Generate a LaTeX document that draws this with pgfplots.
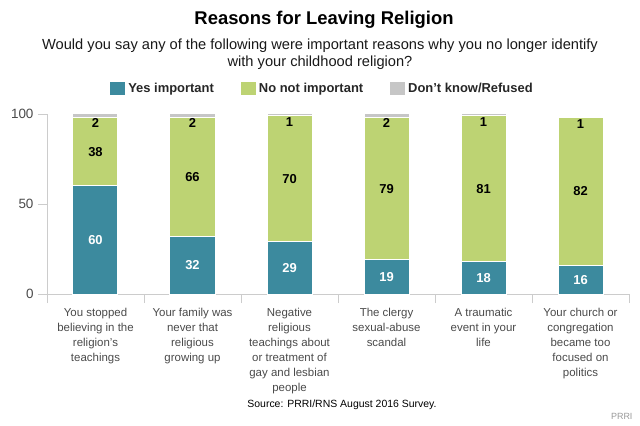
\documentclass[border=0pt]{standalone}
\usepackage{fontspec}
\setmainfont{Liberation Sans}
\usepackage{pgfplots}
\usepackage{pgfplotstable}
\pgfplotsset{compat=1.18}
\definecolor{yescol}{HTML}{3C8A9E}
\definecolor{nocol}{HTML}{BDD373}
\definecolor{dkcol}{HTML}{C6C6C6}
\definecolor{axcol}{HTML}{CCCCCC}
\definecolor{labcol}{HTML}{4A4A4A}

% dk for the last bar is drawn as a sliver, as in the original
\pgfplotstableread{
x yes no dk dklab
0 60 38 2 2
1 32 66 2 2
2 29 70 1 1
3 19 79 2 2
4 18 81 1 1
5 16 82 0.4 1
}\reasons

\pgfplotsset{frame/.style={
    at={(0,0)}, anchor=south west,
    scale only axis, width=582bp, height=180bp,
    xmin=-0.5, xmax=5.5, ymin=0, ymax=100, clip=false}}

\begin{document}
\begin{tikzpicture}
\useasboundingbox (-47bp,-132bp) rectangle (593bp,294bp);
\begin{axis}[
    frame,
    ybar stacked, bar width=45bp,
    axis lines*=left,
    axis line style={axcol},
    tick style={axcol},
    major tick length=9bp, tick align=outside,
    ytick={0,50,100},
    yticklabel style={text=labcol, font=\fontsize{13.5}{15}\selectfont, xshift=-1bp},
    /pgf/number format/assume math mode=true,
    xtick={-0.5,0.5,1.5,2.5,3.5,4.5,5.5}, xticklabels={},
    extra x ticks={0,1,2,3,4,5},
    extra x tick labels={
        {You stopped\\believing in the\\religion's\\teachings},
        {Your family was\\never that\\religious\\growing up},
        {Negative\\religious\\teachings about\\or treatment of\\gay and lesbian\\people},
        {The clergy\\sexual-abuse\\scandal},
        {A traumatic\\event in your\\life},
        {Your church or\\congregation\\became too\\focused on\\politics}},
    extra x tick style={major tick length=0pt,
        tick label style={align=center, text=labcol,
        font=\fontsize{11.5}{15}\selectfont, yshift=-11bp}},
    legend columns=3,
    legend style={draw=none, fill=none, at={(0.4725,1.139)}, anchor=center,
        font=\bfseries\fontsize{13}{14}\selectfont, text=black!85,
        /tikz/every even column/.append style={column sep=24bp}},
    legend image code/.code={\fill[#1] (0bp,-7bp) rectangle (16bp,7bp);},
]
\addplot[fill=yescol, draw=white, line width=1bp] table[x=x, y=yes] {\reasons};
\addplot[fill=nocol, draw=white, line width=1bp] table[x=x, y=no] {\reasons};
\addplot[fill=dkcol, draw=white, line width=1bp,
    point meta=explicit symbolic, nodes near coords,
    every node near coord/.append style={text=black, anchor=north, inner sep=2bp,
        font=\bfseries\fontsize{13}{15}\selectfont}]
    table[x=x, y=dk, meta=dklab] {\reasons};
\legend{Yes important, No not important, Don't know/Refused}
\end{axis}
% value labels in the middle of each segment
\begin{axis}[frame, hide axis,
    every node near coord/.append style={anchor=center,
        font=\bfseries\fontsize{13}{15}\selectfont}]
\addplot[draw=none, mark=none, point meta=explicit symbolic, nodes near coords,
    every node near coord/.append style={text=white}]
    table[x=x, y expr=\thisrow{yes}/2, meta=yes] {\reasons};
\addplot[draw=none, mark=none, point meta=explicit symbolic, nodes near coords,
    every node near coord/.append style={text=black}]
    table[x=x, y expr=\thisrow{yes}+\thisrow{no}/2, meta=no] {\reasons};
\end{axis}
\node[font=\bfseries\fontsize{18.5}{22}\selectfont] at (277bp,274bp) {Reasons for Leaving Religion};
\node[font=\fontsize{14.7}{17}\selectfont, align=center, text=black!90] at (273bp,240bp)
    {Would you say any of the following were important reasons why you no longer identify\\with your childhood religion?};
\node[font=\fontsize{10.5}{12}\selectfont] at (295bp,-111bp) {Source: PRRI/RNS August 2016 Survey.};
\node[font=\fontsize{9}{10}\selectfont, text=black!40, anchor=east] at (589bp,-122bp) {PRRI};
\end{tikzpicture}
\end{document}
